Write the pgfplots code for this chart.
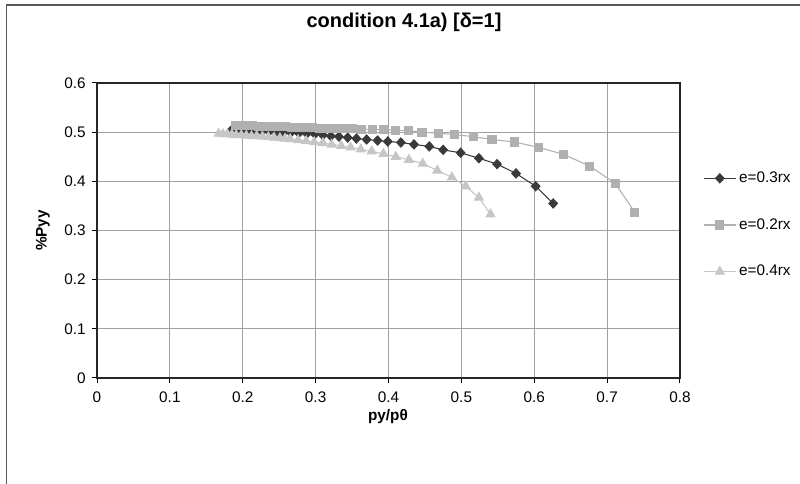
\documentclass[border=0pt]{standalone}
\usepackage{fontspec}
\setmainfont{Liberation Sans}
\usepackage{pgfplots}
\pgfplotsset{compat=1.18}

\definecolor{serA}{HTML}{3A3A3A}
\definecolor{serB}{HTML}{B0B0B0}
\definecolor{serC}{HTML}{C6C6C6}
\definecolor{gridc}{HTML}{A0A0A0}

\begin{document}
\begin{tikzpicture}
\useasboundingbox (0,0) rectangle (600pt,363pt);
% outer chart frame (only top and left edges are in view)
\draw[black!65, line width=1.1pt] (4.9pt,-2pt) -- (4.9pt,359.3pt) -- (602pt,359.3pt);
\node[font=\fontsize{15}{18}\selectfont\bfseries] at (303pt,346pt) {condition 4.1a) [δ=1]};

\begin{axis}[
  at={(72.75pt,79.5pt)}, anchor=south west,
  scale only axis, width=437.25pt, height=221.25pt,
  xmin=0, xmax=0.8, ymin=0, ymax=0.6,
  xtick={0,0.1,0.2,0.3,0.4,0.5,0.6,0.7,0.8},
  ytick={0,0.1,0.2,0.3,0.4,0.5,0.6},
  /pgf/number format/assume math mode=true,
  /pgf/number format/fixed,
  ticklabel style={font=\fontsize{11.5}{13}\selectfont},
  xticklabel style={yshift=-3pt},
  yticklabel style={xshift=-1pt},
  tick pos=left, tick align=outside, major tick length=4pt,
  tick style={black, line width=0.75pt},
  axis line style={black!85, line width=0.8pt},
  xmajorgrids, ymajorgrids,
  grid style={gridc, line width=0.75pt},
  xlabel={py/pθ}, ylabel={\%Pyy},
  xlabel style={at={(axis description cs:0.499,-0.129)}, anchor=center,
    font=\fontsize{11.5}{13}\selectfont\bfseries},
  ylabel style={at={(axis description cs:-0.093,0.5)}, anchor=center, rotate=0,
    font=\fontsize{11.5}{13}\selectfont\bfseries},
  legend cell align=left,
  legend style={at={(rel axis cs:1.0395,0.5186)}, anchor=west, draw=none, fill=none,
    inner sep=0pt, row sep=25pt, column sep=2pt,
    font=\fontsize{11.5}{13}\selectfont,
    nodes={inner sep=0pt, text height=8pt, text depth=2pt}},
  legend image code/.code={\draw[mark repeat=2,mark phase=2,#1]
    plot coordinates {(0pt,0pt) (12pt,0pt) (24pt,0pt)};},
]
\addplot[serA, line width=0.8pt, mark=diamond*, mark size=3.4pt, mark options={solid, fill=serA, draw=serA, xscale=1.25}]
  coordinates {(0.185,0.505) (0.192,0.504) (0.200,0.504) (0.208,0.503) (0.217,0.502)
  (0.226,0.502) (0.236,0.501) (0.246,0.500) (0.256,0.500) (0.266,0.499) (0.277,0.498)
  (0.288,0.497) (0.299,0.496) (0.310,0.494) (0.321,0.492) (0.332,0.491) (0.344,0.489)
  (0.356,0.487) (0.370,0.485) (0.385,0.483) (0.399,0.481) (0.417,0.479) (0.435,0.475)
  (0.456,0.471) (0.475,0.464) (0.499,0.458) (0.524,0.447) (0.549,0.435) (0.575,0.416)
  (0.602,0.390) (0.626,0.355)};
\addlegendentry{e=0.3rx}
\addplot[serB, line width=0.8pt, mark=square*, mark size=3pt, mark options={solid, fill=serB, draw=serB}]
  coordinates {(0.190,0.514) (0.196,0.514) (0.202,0.513) (0.208,0.513) (0.214,0.513)
  (0.221,0.512) (0.228,0.512) (0.235,0.512) (0.243,0.511) (0.251,0.511) (0.259,0.511)
  (0.267,0.510) (0.276,0.510) (0.285,0.509) (0.295,0.509) (0.305,0.508) (0.315,0.508)
  (0.328,0.507) (0.339,0.507) (0.350,0.507) (0.363,0.506) (0.378,0.506) (0.393,0.505)
  (0.409,0.504) (0.427,0.503) (0.446,0.500) (0.468,0.498) (0.490,0.495) (0.516,0.491)
  (0.542,0.485) (0.573,0.480) (0.606,0.469) (0.640,0.455) (0.676,0.431) (0.711,0.396)
  (0.738,0.337)};
\addlegendentry{e=0.2rx}
\addplot[serC, line width=0.8pt, mark=triangle*, mark size=3.8pt, mark options={solid, fill=serC, draw=serC}]
  coordinates {(0.167,0.497) (0.173,0.496) (0.179,0.496) (0.185,0.495) (0.191,0.494)
  (0.198,0.494) (0.205,0.493) (0.212,0.492) (0.219,0.492) (0.227,0.491) (0.235,0.490)
  (0.243,0.489) (0.251,0.488) (0.258,0.487) (0.265,0.486) (0.276,0.484) (0.287,0.482)
  (0.298,0.480) (0.310,0.478) (0.322,0.475) (0.335,0.472) (0.348,0.469) (0.362,0.465)
  (0.377,0.461) (0.393,0.456) (0.410,0.450) (0.428,0.444) (0.447,0.436) (0.467,0.422)
  (0.487,0.408) (0.506,0.390) (0.524,0.367) (0.540,0.333)};
\addlegendentry{e=0.4rx}
\end{axis}
\end{tikzpicture}
\end{document}
